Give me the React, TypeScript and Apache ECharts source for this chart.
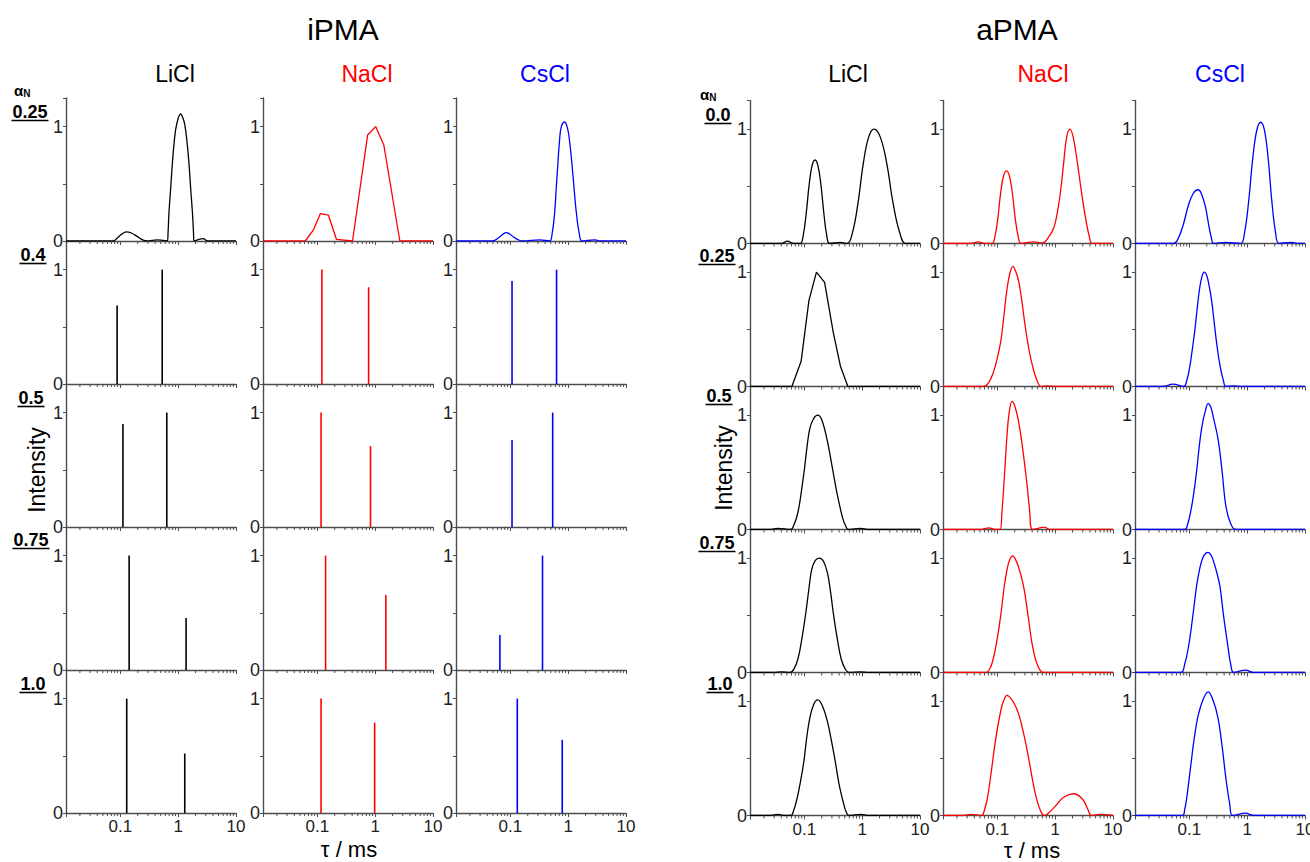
import React, { useEffect, useRef } from 'react';
import * as echarts from 'echarts';

// ---------------- data ----------------
const TAU_MIN = 0.0115;
const TAU_MAX = 10;
const Y_MAX = 1.25;
const Y_INTERVAL = 0.5;

const SALTS = ['LiCl', 'NaCl', 'CsCl'];
const SALT_COLORS = ['#000000', '#ff0000', '#0000ff'];
const GROUP_TITLES = ['iPMA', 'aPMA'];
const IPMA_ALPHA = ['0.25', '0.4', '0.5', '0.75', '1.0'];
const APMA_ALPHA = ['0.0', '0.25', '0.5', '0.75', '1.0'];
const X_TICK_LABELS = [0.1, 1, 10];
const Y_TICK_LABELS = [0, 1];
const MINOR_TICKS = [
  0.02, 0.03, 0.04, 0.05, 0.06, 0.07, 0.08, 0.09,
  0.2, 0.3, 0.4, 0.5, 0.6, 0.7, 0.8, 0.9,
  2, 3, 4, 5, 6, 7, 8, 9,
];

// iPMA, alpha_N = 0.25 (continuous distributions)
const IPMA_A025_LICL = [
  [0.0115, 0], [0.0764, 0], [0.088, 0.025], [0.1, 0.05], [0.113, 0.07], [0.127, 0.08],
  [0.155, 0.07], [0.195, 0.04], [0.24, 0.012], [0.291, 0], [0.435, 0.01], [0.649, 0],
  [0.67, 0.08], [0.692, 0.24], [0.74, 0.45], [0.793, 0.675], [0.86, 0.88], [0.942, 1.02],
  [1.105, 1.11], [1.2, 1.08], [1.3, 1.02], [1.42, 0.87], [1.54, 0.675], [1.65, 0.45],
  [1.77, 0.24], [1.84, 0.08], [1.88, 0], [2.7, 0.02], [3.22, 0], [10, 0],
];
const IPMA_A025_NACL = [
  [0.0115, 0], [0.0618, 0], [0.0863, 0.1], [0.113, 0.24], [0.155, 0.227], [0.214, 0.015],
  [0.406, 0], [0.741, 0.927], [1.02, 1.0], [1.41, 0.84], [2.67, 0], [10, 0],
];
const IPMA_A025_CSCL = [
  [0.0115, 0], [0.0492, 0], [0.065, 0.035], [0.075, 0.06], [0.0841, 0.073], [0.095, 0.065],
  [0.11, 0.04], [0.135, 0.012], [0.164, 0], [0.319, 0.01], [0.477, 0], [0.53, 0.07],
  [0.582, 0.24], [0.62, 0.45], [0.665, 0.68], [0.71, 0.88], [0.762, 1.0], [0.869, 1.04],
  [0.99, 0.97], [1.07, 0.85], [1.16, 0.68], [1.27, 0.45], [1.39, 0.24], [1.55, 0.07],
  [1.74, 0], [2.89, 0.01], [3.53, 0], [10, 0],
];

// iPMA, discrete relaxation times (tau, intensity)
const IPMA_A04_LICL = [[0.088, 0.687], [0.53, 1.0]];
const IPMA_A04_NACL = [[0.12, 1.0], [0.77, 0.846]];
const IPMA_A04_CSCL = [[0.107, 0.9], [0.63, 1.0]];
const IPMA_A05_LICL = [[0.111, 0.9], [0.636, 1.0]];
const IPMA_A05_NACL = [[0.116, 1.0], [0.83, 0.707]];
const IPMA_A05_CSCL = [[0.107, 0.76], [0.54, 1.0]];
const IPMA_A075_LICL = [[0.142, 1.0], [1.37, 0.455]];
const IPMA_A075_NACL = [[0.139, 1.0], [1.53, 0.655]];
const IPMA_A075_CSCL = [[0.066, 0.307], [0.36, 1.0]];
const IPMA_A10_LICL = [[0.129, 1.0], [1.3, 0.52]];
const IPMA_A10_NACL = [[0.116, 1.0], [0.98, 0.79]];
const IPMA_A10_CSCL = [[0.132, 1.0], [0.79, 0.64]];

// aPMA (continuous distributions)
const APMA_A00_LICL = [
  [0.0115, 0], [0.04, 0], [0.051, 0.02], [0.065, 0], [0.085, 0], [0.0957, 0.07], [0.1076, 0.26],
  [0.121, 0.51], [0.136, 0.68], [0.153, 0.73], [0.172, 0.68], [0.194, 0.51], [0.218, 0.26],
  [0.244, 0.07], [0.275, 0], [0.42, 0.01], [0.553, 0], [0.684, 0.1], [0.845, 0.35],
  [1.047, 0.7], [1.294, 0.93], [1.6, 1.0], [2.06, 0.93], [2.66, 0.7], [3.43, 0.35],
  [4.43, 0.1], [5.7, 0], [10, 0],
];
const APMA_A00_NACL = [
  [0.0115, 0], [0.035, 0], [0.047, 0.015], [0.06, 0], [0.081, 0], [0.0908, 0.06], [0.102, 0.22],
  [0.114, 0.44], [0.128, 0.59], [0.144, 0.635], [0.162, 0.59], [0.182, 0.44], [0.204, 0.22],
  [0.23, 0.06], [0.258, 0], [0.42, 0.015], [0.6, 0.005], [0.78, 0.06], [0.95, 0.14],
  [1.09, 0.27], [1.25, 0.47], [1.4, 0.7], [1.58, 0.93], [1.79, 1.0], [2.05, 0.93],
  [2.43, 0.7], [2.85, 0.45], [3.39, 0.21], [3.9, 0.06], [4.4, 0], [10, 0],
];
const APMA_A00_CSCL = [
  [0.0115, 0], [0.053, 0], [0.0646, 0.047], [0.0787, 0.165], [0.0958, 0.33], [0.1167, 0.437],
  [0.142, 0.47], [0.1607, 0.44], [0.19, 0.32], [0.215, 0.17], [0.24, 0.05], [0.265, 0],
  [0.42, 0.01], [0.77, 0], [0.904, 0.1], [1.062, 0.37], [1.247, 0.74], [1.466, 0.99],
  [1.72, 1.06], [1.99, 0.99], [2.31, 0.74], [2.67, 0.37], [3.09, 0.1], [3.57, 0],
  [5.87, 0.01], [7.5, 0], [10, 0],
];
const APMA_A025_LICL = [
  [0.0115, 0], [0.061, 0], [0.088, 0.22], [0.12, 0.75], [0.162, 1.0], [0.224, 0.91],
  [0.317, 0.47], [0.42, 0.18], [0.566, 0], [10, 0],
];
const APMA_A025_NACL = [
  [0.0115, 0], [0.0575, 0], [0.07, 0.03], [0.085, 0.12], [0.1, 0.25], [0.116, 0.41],
  [0.13, 0.62], [0.147, 0.85], [0.165, 0.99], [0.186, 1.05], [0.21, 1.0], [0.236, 0.91],
  [0.265, 0.75], [0.297, 0.56], [0.35, 0.33], [0.406, 0.18], [0.48, 0.06], [0.573, 0],
  [0.75, 0.005], [1.0, 0], [10, 0],
];
const APMA_A025_CSCL = [
  [0.0115, 0], [0.035, 0], [0.052, 0.02], [0.0805, 0], [0.09, 0.05], [0.1, 0.15],
  [0.111, 0.3], [0.123, 0.47], [0.136, 0.67], [0.15, 0.85], [0.165, 0.96], [0.182, 1.0],
  [0.2, 0.97], [0.22, 0.88], [0.245, 0.74], [0.269, 0.56], [0.3, 0.36], [0.34, 0.18],
  [0.385, 0.06], [0.43, 0], [0.6, 0.005], [0.8, 0], [10, 0],
];
const APMA_A05_LICL = [
  [0.0115, 0], [0.025, 0], [0.035, 0.01], [0.058, 0], [0.066, 0.04], [0.075, 0.12],
  [0.083, 0.23], [0.091, 0.37], [0.1, 0.52], [0.11, 0.7], [0.124, 0.88], [0.145, 0.97],
  [0.17, 1.0], [0.2, 0.96], [0.251, 0.77], [0.3, 0.56], [0.37, 0.31], [0.46, 0.1],
  [0.52, 0.03], [0.575, 0], [0.94, 0.01], [1.3, 0], [10, 0],
];
const APMA_A05_NACL = [
  [0.0115, 0], [0.05, 0], [0.0726, 0.015], [0.09, 0], [0.111, 0], [0.12, 0.15],
  [0.132, 0.45], [0.147, 0.82], [0.16, 1.02], [0.18, 1.12], [0.2, 1.08], [0.225, 0.98],
  [0.254, 0.83], [0.285, 0.64], [0.322, 0.42], [0.36, 0.18], [0.406, 0], [0.652, 0.02],
  [0.8, 0], [10, 0],
];
const APMA_A05_CSCL = [
  [0.0115, 0], [0.083, 0], [0.094, 0.05], [0.105, 0.15], [0.118, 0.3], [0.133, 0.5],
  [0.148, 0.72], [0.165, 0.9], [0.188, 1.03], [0.212, 1.1], [0.235, 1.07], [0.26, 0.98],
  [0.314, 0.79], [0.37, 0.5], [0.43, 0.2], [0.52, 0.05], [0.636, 0], [10, 0],
];
const APMA_A075_LICL = [
  [0.0115, 0], [0.03, 0], [0.04, 0.005], [0.0566, 0], [0.066, 0.03], [0.0777, 0.12],
  [0.091, 0.3], [0.106, 0.52], [0.12, 0.73], [0.134, 0.9], [0.155, 0.98], [0.183, 1.0],
  [0.215, 0.97], [0.251, 0.87], [0.285, 0.7], [0.317, 0.52], [0.37, 0.3], [0.433, 0.12],
  [0.51, 0.03], [0.592, 0], [0.94, 0.005], [1.3, 0], [10, 0],
];
const APMA_A075_NACL = [
  [0.0115, 0], [0.0641, 0], [0.074, 0.03], [0.0851, 0.12], [0.1, 0.3], [0.116, 0.52],
  [0.13, 0.73], [0.147, 0.9], [0.165, 0.99], [0.186, 1.02], [0.21, 0.98], [0.24, 0.9],
  [0.265, 0.82], [0.297, 0.7], [0.35, 0.45], [0.406, 0.23], [0.5, 0.06], [0.631, 0], [10, 0],
];
const APMA_A075_CSCL = [
  [0.0115, 0], [0.0711, 0], [0.083, 0.07], [0.0972, 0.23], [0.114, 0.48], [0.133, 0.75],
  [0.15, 0.9], [0.17, 1.0], [0.19, 1.04], [0.212, 1.05], [0.24, 1.02], [0.27, 0.95],
  [0.3, 0.87], [0.339, 0.75], [0.39, 0.5], [0.464, 0.23], [0.52, 0.07], [0.587, 0],
  [0.938, 0.02], [1.3, 0], [10, 0],
];
const APMA_A10_LICL = [
  [0.0115, 0], [0.025, 0], [0.035, 0.01], [0.045, 0], [0.0585, 0], [0.066, 0.05],
  [0.075, 0.15], [0.086, 0.3], [0.098, 0.47], [0.11, 0.68], [0.124, 0.85], [0.145, 0.97],
  [0.17, 1.01], [0.205, 0.96], [0.251, 0.82], [0.295, 0.65], [0.343, 0.47], [0.4, 0.27],
  [0.469, 0.12], [0.53, 0.03], [0.592, 0], [0.95, 0.01], [1.3, 0], [10, 0],
];
const APMA_A10_NACL = [
  [0.0115, 0], [0.025, 0], [0.035, 0.01], [0.0533, 0], [0.06, 0.05], [0.0673, 0.15],
  [0.078, 0.37], [0.0919, 0.64], [0.115, 0.92], [0.13, 1.01], [0.147, 1.05], [0.19, 0.99],
  [0.236, 0.88], [0.29, 0.7], [0.348, 0.5], [0.41, 0.3], [0.475, 0.15], [0.56, 0.04],
  [0.652, 0], [0.8, 0.03], [1.0, 0.08], [1.4, 0.16], [2.1, 0.19], [3.0, 0.14],
  [3.7, 0.05], [4.25, 0], [6, 0.01], [10, 0],
];
const APMA_A10_CSCL = [
  [0.0115, 0], [0.0767, 0], [0.083, 0.05], [0.09, 0.15], [0.105, 0.42], [0.122, 0.68],
  [0.143, 0.88], [0.175, 1.02], [0.212, 1.08], [0.26, 1.0], [0.314, 0.85], [0.37, 0.6],
  [0.43, 0.32], [0.5, 0.1], [0.56, 0], [0.938, 0.02], [1.3, 0], [10, 0],
];

// rows: [LiCl, NaCl, CsCl]
const IPMA_ROWS = [
  { kind: 'curve', series: [IPMA_A025_LICL, IPMA_A025_NACL, IPMA_A025_CSCL], smooth: [0.4, 0, 0.4] },
  { kind: 'stick', series: [IPMA_A04_LICL, IPMA_A04_NACL, IPMA_A04_CSCL] },
  { kind: 'stick', series: [IPMA_A05_LICL, IPMA_A05_NACL, IPMA_A05_CSCL] },
  { kind: 'stick', series: [IPMA_A075_LICL, IPMA_A075_NACL, IPMA_A075_CSCL] },
  { kind: 'stick', series: [IPMA_A10_LICL, IPMA_A10_NACL, IPMA_A10_CSCL] },
];
const APMA_ROWS = [
  { kind: 'curve', series: [APMA_A00_LICL, APMA_A00_NACL, APMA_A00_CSCL], smooth: [0.4, 0.4, 0.4] },
  { kind: 'curve', series: [APMA_A025_LICL, APMA_A025_NACL, APMA_A025_CSCL], smooth: [0, 0.4, 0.4] },
  { kind: 'curve', series: [APMA_A05_LICL, APMA_A05_NACL, APMA_A05_CSCL], smooth: [0.4, 0.4, 0.4] },
  { kind: 'curve', series: [APMA_A075_LICL, APMA_A075_NACL, APMA_A075_CSCL], smooth: [0.4, 0.4, 0.4] },
  { kind: 'curve', series: [APMA_A10_LICL, APMA_A10_NACL, APMA_A10_CSCL], smooth: [0.4, 0.4, 0.4] },
];

// ---------------- layout ----------------
const FONT = '"Liberation Sans", Arial, Helvetica, sans-serif';
const AXIS_COLOR = '#4d4d4d';
const PANEL_W = 170;
const ROW_H = 143;
const GROUPS = [
  { lefts: [66, 263, 456], top0: 98, rows: IPMA_ROWS, alpha: IPMA_ALPHA,
    titleX: 343, colTitleX: [175, 367, 545],
    alphaPos: [[30, 112], [33, 255], [31, 398], [31, 540], [33, 684]], alphaHead: [14, 90],
    intensity: [37, 470], tau: [349, 849.5], tauSize: 22 },
  { lefts: [750, 943, 1135], top0: 100.5, rows: APMA_ROWS, alpha: APMA_ALPHA,
    titleX: 1017, colTitleX: [848, 1043, 1220],
    alphaPos: [[718, 115], [717, 256], [719, 396], [717, 543], [720, 684]], alphaHead: [700, 94],
    intensity: [724, 468], tau: [1032, 850.5], tauSize: 22 },
];

function stickRender(color: string) {
  return (_params: any, api: any) => {
    const x = api.value(0);
    const h = api.value(1);
    const p0 = api.coord([x, 0]);
    const p1 = api.coord([x, h]);
    return {
      type: 'line',
      shape: { x1: p0[0], y1: p0[1], x2: p1[0], y2: p1[1] },
      style: { stroke: color, lineWidth: 1.6 },
    };
  };
}

function minorTickRender(_params: any, api: any) {
  const p = api.coord([api.value(0), 0]);
  return {
    type: 'line',
    shape: { x1: p[0], y1: p[1], x2: p[0], y2: p[1] + 3 },
    style: { stroke: AXIS_COLOR, lineWidth: 1 },
  };
}

function textWidth(s: string, fs: number) {
  let w = 0;
  for (const ch of s) w += ch === '.' ? 0.278 : 0.556;
  return w * fs;
}

function buildOption() {
  const grid: any[] = [];
  const xAxis: any[] = [];
  const yAxis: any[] = [];
  const series: any[] = [];
  const graphic: any[] = [];

  GROUPS.forEach((g, gi) => {
    g.rows.forEach((row: any, r: number) => {
      for (let c = 0; c < 3; c++) {
        const idx = grid.length;
        grid.push({
          left: g.lefts[c], top: g.top0 + ROW_H * r, width: PANEL_W, height: ROW_H,
          containLabel: false, outerBoundsMode: 'none',
        });
        xAxis.push({
          type: 'log', logBase: 10, gridIndex: idx, min: TAU_MIN, max: TAU_MAX,
          axisLine: { show: true, onZero: false, lineStyle: { color: AXIS_COLOR, width: 1.4 } },
          axisTick: { show: true, inside: false, length: 4, lineStyle: { color: AXIS_COLOR, width: 1 } },
          axisLabel: {
            show: r === 4, margin: 5, color: '#222', fontSize: 17, fontFamily: FONT,
            formatter: (v: number) => {
              const hit = X_TICK_LABELS.find((t) => Math.abs(v - t) / t < 1e-6);
              return hit === undefined ? '' : String(hit);
            },
          },
          splitLine: { show: false },
          minorTick: { show: false },
        });
        yAxis.push({
          type: 'value', gridIndex: idx, min: 0, max: Y_MAX, interval: Y_INTERVAL,
          axisLine: { show: true, onZero: false, lineStyle: { color: AXIS_COLOR, width: 1.4 } },
          axisTick: { show: true, inside: false, length: 3, lineStyle: { color: AXIS_COLOR, width: 1 } },
          axisLabel: {
            margin: 3, color: '#222', fontSize: 18, fontFamily: FONT,
            formatter: (v: number) => (Y_TICK_LABELS.includes(v) ? String(v) : ''),
          },
          splitLine: { show: false },
        });
        const color = SALT_COLORS[c];
        if (row.kind === 'curve') {
          series.push({
            type: 'line', xAxisIndex: idx, yAxisIndex: idx, data: row.series[c],
            showSymbol: false, symbol: 'none', smooth: row.smooth[c] || false,
            lineStyle: { color, width: 1.3 }, itemStyle: { color },
            silent: true, clip: true, z: 4,
          });
        } else {
          series.push({
            type: 'custom', xAxisIndex: idx, yAxisIndex: idx, data: row.series[c],
            encode: { x: 0, y: 1 }, renderItem: stickRender(color), silent: true, clip: false, z: 4,
          });
        }
        series.push({
          type: 'custom', xAxisIndex: idx, yAxisIndex: idx,
          data: MINOR_TICKS.map((t) => [t, 0]), encode: { x: 0, y: 1 },
          renderItem: minorTickRender, silent: true, clip: false, z: 5,
        });
      }
    });

    graphic.push({
      type: 'text', x: g.titleX, y: 29,
      style: { text: GROUP_TITLES[gi], fontSize: 30, fontFamily: FONT, fill: '#000', align: 'center', verticalAlign: 'middle' },
    });
    SALTS.forEach((s, c) => {
      graphic.push({
        type: 'text', x: g.colTitleX[c], y: 74,
        style: { text: s, fontSize: 23, fontFamily: FONT, fill: SALT_COLORS[c], align: 'center', verticalAlign: 'middle' },
      });
    });
    graphic.push({
      type: 'text', x: g.alphaHead[0], y: g.alphaHead[1],
      style: {
        text: '{a|α}{n|N}', align: 'left', verticalAlign: 'middle', fontFamily: FONT,
        rich: {
          a: { fontSize: 15, fontWeight: 'bold', fontFamily: FONT, fill: '#000' },
          n: { fontSize: 10, fontWeight: 'bold', fontFamily: FONT, fill: '#000', padding: [6, 0, 0, 0] },
        },
      },
    });
    g.alpha.forEach((a: string, r: number) => {
      const [cx, cy] = g.alphaPos[r];
      const fs = 18;
      const w = textWidth(a, fs);
      graphic.push({
        type: 'text', x: cx, y: cy,
        style: { text: a, fontSize: fs, fontWeight: 'bold', fontFamily: FONT, fill: '#000', align: 'center', verticalAlign: 'middle' },
      });
      graphic.push({
        type: 'line',
        shape: { x1: cx - w / 2 - 1, y1: cy + 8.5, x2: cx + w / 2 + 1, y2: cy + 8.5 },
        style: { stroke: '#000', lineWidth: 1.6 },
      });
    });
    graphic.push({
      type: 'text', x: g.intensity[0], y: g.intensity[1], rotation: Math.PI / 2,
      style: { text: 'Intensity', fontSize: 23, fontFamily: FONT, fill: '#000', align: 'center', verticalAlign: 'middle' },
    });
    graphic.push({
      type: 'text', x: g.tau[0], y: g.tau[1],
      style: { text: 'τ / ms', fontSize: g.tauSize, fontFamily: FONT, fill: '#000', align: 'center', verticalAlign: 'middle' },
    });
  });

  return {
    animation: false,
    backgroundColor: '#ffffff',
    textStyle: { fontFamily: FONT },
    grid, xAxis, yAxis, series, graphic,
  };
}

export default function App() {
  const ref = useRef<HTMLDivElement>(null);
  useEffect(() => {
    if (!ref.current) return;
    const chart = echarts.init(ref.current, null, { renderer: 'svg' });
    chart.setOption(buildOption() as any);
    return () => chart.dispose();
  }, []);
  return (
    <div
      ref={ref}
      style={{ position: 'fixed', left: 0, top: 0, width: 1310, height: 862, background: '#fff' }}
    />
  );
}
